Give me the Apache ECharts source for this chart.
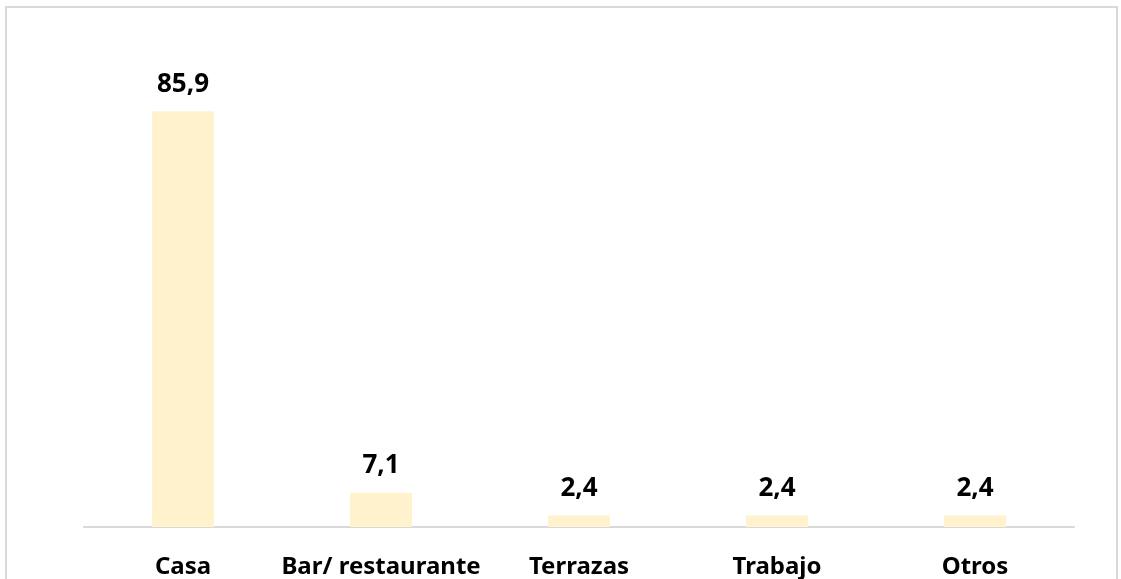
<!DOCTYPE html>
<html>
<head>
<meta charset="utf-8">
<style>
  html, body { margin: 0; padding: 0; background: #ffffff; }
  #chart { width: 1121px; height: 579px; }
</style>
<script src="https://cdn.jsdelivr.net/npm/echarts@6/dist/echarts.min.js"></script>
</head>
<body>
<div id="chart"></div>
<script>
// Lugar de consumo (%)
const categories = ['Casa', 'Bar/ restaurante', 'Terrazas', 'Trabajo', 'Otros'];
const values = [85.9, 7.1, 2.4, 2.4, 2.4];

const fmt = v => v.toFixed(1).replace('.', ',');

const chart = echarts.init(document.getElementById('chart'), null, { renderer: 'canvas' });
chart.setOption({
  backgroundColor: '#ffffff',
  animation: false,
  graphic: [{
    type: 'rect',
    z: -10,
    shape: { x: 6, y: 7, width: 1111, height: 620 },
    style: { fill: 'none', stroke: '#d9d9d9', lineWidth: 2 },
    silent: true
  }],
  grid: { left: 84, right: 47, top: 43, bottom: 52 },
  xAxis: {
    type: 'category',
    data: categories,
    axisLine: { show: true, lineStyle: { color: '#d9d9d9', width: 2 } },
    axisTick: { show: false },
    axisLabel: {
      interval: 0,
      hideOverlap: false,
      margin: 28,
      color: '#000000',
      fontFamily: 'Noto Sans',
      fontWeight: 'bold',
      fontSize: 24
    }
  },
  yAxis: {
    type: 'value',
    min: 0,
    max: 100,
    show: false,
    splitLine: { show: false }
  },
  series: [{
    type: 'bar',
    data: values,
    barWidth: 62,
    itemStyle: { color: '#FFF2CC' },
    label: {
      show: true,
      position: 'top',
      distance: 14,
      color: '#000000',
      fontFamily: 'Noto Sans',
      fontWeight: 'bold',
      fontSize: 26,
      formatter: p => fmt(p.value)
    }
  }]
});
</script>
</body>
</html>
